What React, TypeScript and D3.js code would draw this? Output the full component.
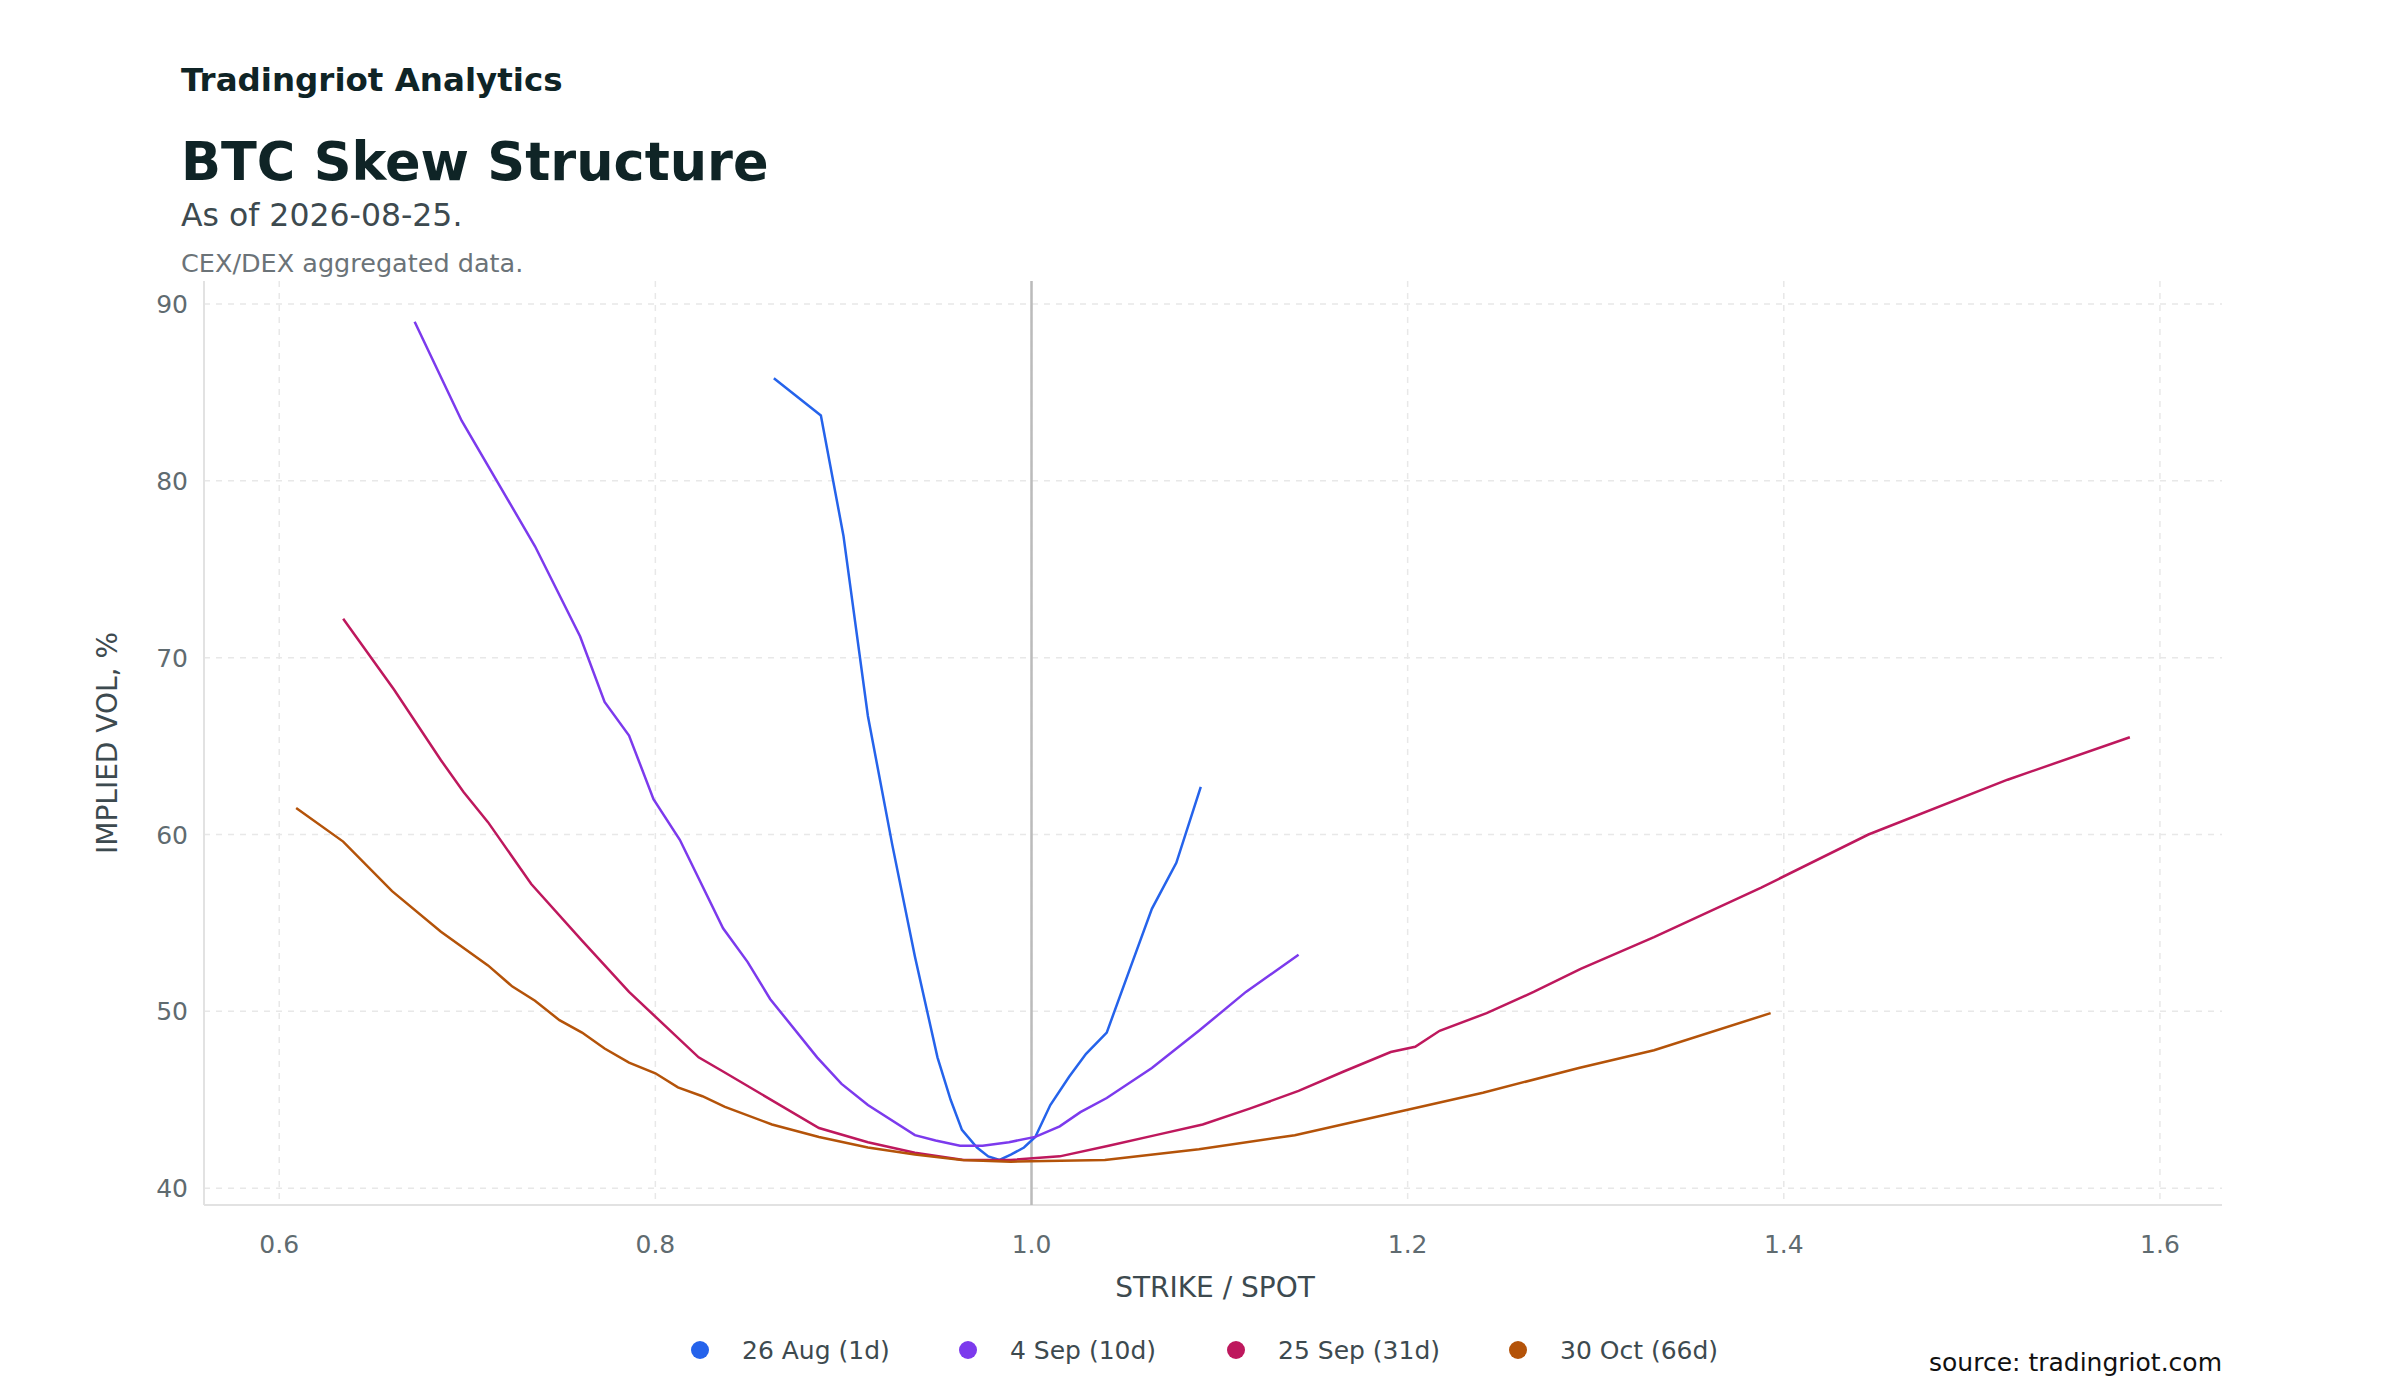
import * as d3 from 'd3';

const seriesNames = ['26 Aug (1d)', '4 Sep (10d)', '25 Sep (31d)', '30 Oct (66d)'];
const seriesColors = ['#2563eb', '#7c3aed', '#be185d', '#b45309'];

const aug26: [number, number][] = [
  [0.863, 85.8], [0.888, 83.7], [0.9, 76.9], [0.913, 66.7], [0.926, 59.4], [0.938, 53.1],
  [0.95, 47.4], [0.957, 45.0], [0.963, 43.3], [0.971, 42.3], [0.977, 41.8], [0.983, 41.6],
  [0.989, 41.9], [0.996, 42.3], [1.002, 42.9], [1.01, 44.7], [1.02, 46.3], [1.029, 47.6],
  [1.04, 48.8], [1.053, 52.6], [1.064, 55.8], [1.077, 58.4], [1.09, 62.7],
];
const sep4: [number, number][] = [
  [0.672, 89.0], [0.697, 83.4], [0.736, 76.3], [0.76, 71.2], [0.773, 67.5], [0.786, 65.6],
  [0.799, 62.0], [0.813, 59.7], [0.836, 54.7], [0.849, 52.8], [0.861, 50.7], [0.886, 47.4],
  [0.899, 45.9], [0.913, 44.7], [0.938, 43.0], [0.949, 42.7], [0.962, 42.4], [0.974, 42.4],
  [0.988, 42.6], [1.002, 42.9], [1.015, 43.5], [1.026, 44.3], [1.04, 45.1], [1.064, 46.8],
  [1.089, 48.9], [1.114, 51.1], [1.142, 53.2],
];
const sep25: [number, number][] = [
  [0.634, 72.2], [0.661, 68.2], [0.686, 64.2], [0.698, 62.4], [0.711, 60.7], [0.734, 57.2],
  [0.761, 54.0], [0.786, 51.1], [0.823, 47.4], [0.836, 46.6], [0.887, 43.4], [0.913, 42.6],
  [0.938, 42.0], [0.964, 41.6], [0.989, 41.6], [1.015, 41.8], [1.041, 42.4], [1.066, 43.0],
  [1.091, 43.6], [1.116, 44.5], [1.142, 45.5], [1.166, 46.6], [1.191, 47.7], [1.204, 48.0],
  [1.217, 48.9], [1.242, 49.9], [1.267, 51.1], [1.292, 52.4], [1.331, 54.2], [1.388, 57.0],
  [1.445, 60.0], [1.519, 63.1], [1.584, 65.5],
];
const oct30: [number, number][] = [
  [0.609, 61.5], [0.634, 59.6], [0.66, 56.8], [0.686, 54.5], [0.711, 52.6], [0.724, 51.4],
  [0.736, 50.6], [0.749, 49.5], [0.761, 48.8], [0.773, 47.9], [0.786, 47.1], [0.8, 46.5],
  [0.812, 45.7], [0.825, 45.2], [0.837, 44.6], [0.862, 43.6], [0.887, 42.9], [0.913, 42.3],
  [0.938, 41.9], [0.963, 41.6], [0.989, 41.5], [1.039, 41.6], [1.089, 42.2], [1.14, 43.0],
  [1.19, 44.2], [1.24, 45.4], [1.291, 46.8], [1.331, 47.8], [1.393, 49.9],
];
const allSeries = [aug26, sep4, sep25, oct30];
const xTicks = [0.6, 0.8, 1.0, 1.2, 1.4, 1.6];
const yTicks = [40, 50, 60, 70, 80, 90];

export default function App() {
  const width = 2400;
  const height = 1400;
  const margin = { top: 281, right: 178, bottom: 195, left: 204 };
  const innerWidth = width - margin.left - margin.right;
  const innerHeight = height - margin.top - margin.bottom;

  const x = d3.scaleLinear().domain([0.56, 1.633]).range([0, innerWidth]);
  const y = d3.scaleLinear().domain([39.05, 91.3]).range([innerHeight, 0]);
  const line = d3.line<[number, number]>().x((d) => x(d[0])).y((d) => y(d[1]));
  const font = 'DejaVu Sans, sans-serif';
  const legendX = [700, 968, 1236, 1518];

  return (
    <svg width={width} height={height} style={{ display: 'block', margin: -8 }} fontFamily={font}>
      <rect width={width} height={height} fill="#fff" />
      <text x={181} y={91} fontSize={32.5} fontWeight="bold" fill="#0f2426">Tradingriot Analytics</text>
      <text x={181} y={180} fontSize={52.5} fontWeight="bold" fill="#0f2426">BTC Skew Structure</text>
      <text x={181} y={226} fontSize={31.5} fill="#3d4a4f">As of 2026-08-25.</text>
      <text x={181} y={272} fontSize={25.5} fill="#6b7378">CEX/DEX aggregated data.</text>
      <g transform={`translate(${margin.left}, ${margin.top})`}>
        {xTicks.map((t) => (
          <g key={t}>
            <line x1={x(t)} x2={x(t)} y1={0} y2={innerHeight} stroke="#e8e8e8" strokeDasharray="6,6" strokeWidth={1.5} />
            <text x={x(t)} y={innerHeight + 48} textAnchor="middle" fontSize={25} fill="#5f6b70">{t.toFixed(1)}</text>
          </g>
        ))}
        {yTicks.map((t) => (
          <g key={t}>
            <line x1={0} x2={innerWidth} y1={y(t)} y2={y(t)} stroke="#e8e8e8" strokeDasharray="6,6" strokeWidth={1.5} />
            <text x={-16} y={y(t) + 9} textAnchor="end" fontSize={25} fill="#5f6b70">{t}</text>
          </g>
        ))}
        <line x1={0} x2={0} y1={0} y2={innerHeight} stroke="#e2e2e2" strokeWidth={2} />
        <line x1={0} x2={innerWidth} y1={innerHeight} y2={innerHeight} stroke="#e2e2e2" strokeWidth={2} />
        <line x1={x(1)} x2={x(1)} y1={0} y2={innerHeight} stroke="#bbb" strokeWidth={2.5} />
        {allSeries.map((s, i) => (
          <path key={i} d={line(s) ?? ''} fill="none" stroke={seriesColors[i]} strokeWidth={2.5} />
        ))}
      </g>
      <text x={1215} y={1297} textAnchor="middle" fontSize={28} fill="#3d4a4f">STRIKE / SPOT</text>
      <text transform={`translate(117, ${margin.top + innerHeight / 2}) rotate(-90)`} textAnchor="middle" fontSize={28} fill="#3d4a4f">IMPLIED VOL, %</text>
      {seriesNames.map((n, i) => (
        <g key={n}>
          <circle cx={legendX[i]} cy={1350} r={9} fill={seriesColors[i]} />
          <text x={legendX[i] + 42} y={1359} fontSize={25} fill="#3d4a4f">{n}</text>
        </g>
      ))}
      <text x={2222} y={1371} textAnchor="end" fontSize={25} fill="#111">source: tradingriot.com</text>
    </svg>
  );
}
